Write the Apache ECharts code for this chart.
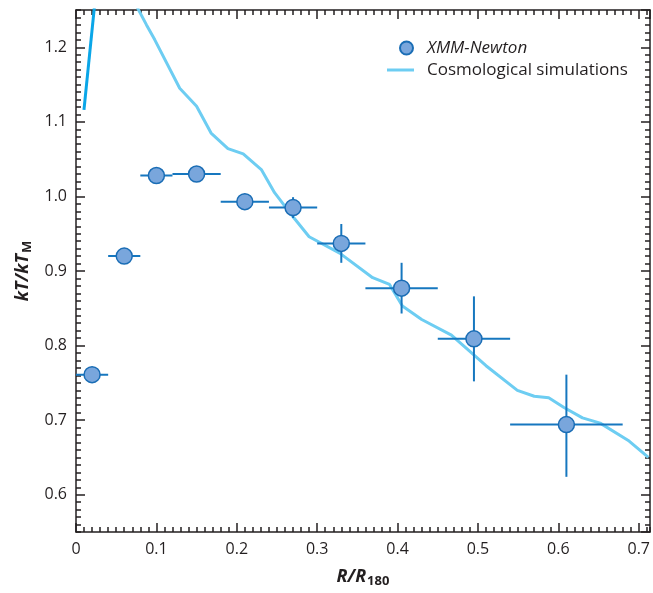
<!DOCTYPE html>
<html>
<head>
<meta charset="utf-8">
<script src="https://cdn.jsdelivr.net/npm/echarts@6/dist/echarts.min.js"></script>
<style>
  html, body { margin: 0; padding: 0; background: #fff; }
  #chart { width: 653px; height: 593px; }
</style>
</head>
<body>
<div id="chart"></div>
<script>
// XMM-Newton temperature profile (bins in R/R180)
const obsR     = [0.02, 0.06, 0.10, 0.15, 0.21, 0.27, 0.33, 0.405, 0.495, 0.61];
const obsKT    = [0.761, 0.920, 1.028, 1.030, 0.993, 0.985, 0.937, 0.877, 0.809, 0.694];
const obsRLo   = [0.00, 0.04, 0.08, 0.12, 0.18, 0.24, 0.30, 0.36, 0.45, 0.54];
const obsRHi   = [0.04, 0.08, 0.12, 0.18, 0.24, 0.30, 0.36, 0.45, 0.54, 0.68];
const obsKTLo  = [0.753, 0.912, 1.020, 1.022, 0.985, 0.971, 0.911, 0.843, 0.752, 0.624];
const obsKTHi  = [0.769, 0.928, 1.036, 1.038, 1.001, 0.999, 0.963, 0.911, 0.866, 0.761];

// Simulated profile
const simR  = [0.072, 0.0877, 0.098, 0.129, 0.150, 0.168, 0.189, 0.208, 0.2305, 0.247, 0.2697,
               0.290, 0.328, 0.369, 0.390, 0.406, 0.430, 0.467, 0.510, 0.549, 0.570, 0.588,
               0.607, 0.630, 0.652, 0.688, 0.712];
const simKT = [1.262, 1.230, 1.210, 1.145, 1.121, 1.085, 1.064, 1.057, 1.036, 1.005, 0.973,
               0.946, 0.924, 0.891, 0.882, 0.853, 0.835, 0.814, 0.773, 0.740, 0.732, 0.730,
               0.717, 0.703, 0.696, 0.672, 0.650];
// Inner rising branch of the simulated profile
const coreR  = [0.0099, 0.0255];
const coreKT = [1.116, 1.282];

// Axis extents and tick steps
const xMin = 0, xMax = 0.714, xMajor = 0.1, xMinor = 0.01;
const yMin = 0.55, yMax = 1.25, yMinor = 0.01;

const FONT = '"Open Sans", "Noto Sans", sans-serif';
const INK = '#231f20';

const chart = echarts.init(document.getElementById('chart'), null, { renderer: 'canvas' });

const grid = { left: 76, top: 10, width: 575, height: 523 };

function xAxisDef(pos, major, withLabels) {
  return {
    type: 'value', position: pos, min: xMin, max: xMax,
    interval: major ? xMajor : xMinor,
    axisLine: { show: major, onZero: false, lineStyle: { color: INK, width: 1.5 } },
    axisTick: { show: true, inside: true, length: major ? 9 : 5, lineStyle: { color: INK, width: 1.5 } },
    axisLabel: {
      show: withLabels, color: INK, fontFamily: FONT, fontSize: 16, margin: 9,
      showMaxLabel: false,
      formatter: v => (Math.abs(v) < 1e-9 ? '0' : v.toFixed(1))
    },
    splitLine: { show: false }
  };
}

function yAxisDef(pos, major, withLabels) {
  const a = {
    type: 'value', position: pos, min: yMin, max: yMax,
    axisLine: { show: major, onZero: false, lineStyle: { color: INK, width: 1.5 } },
    axisTick: { show: true, inside: true, length: major ? 9 : 5, lineStyle: { color: INK, width: 1.5 } },
    axisLabel: {
      show: withLabels, color: INK, fontFamily: FONT, fontSize: 16, margin: 9,
      showMinLabel: false, showMaxLabel: false,
      formatter: v => v.toFixed(1)
    },
    splitLine: { show: false }
  };
  if (major) { a.splitNumber = 7; } else { a.interval = yMinor; }
  return a;
}

const titleRich = {
  a: { fontFamily: FONT, fontSize: 18, fontWeight: 'bold', fontStyle: 'italic', color: INK },
  b: { fontFamily: FONT, fontSize: 13, fontWeight: 'bold', color: INK, padding: [9, 0, 0, 1] }
};

const xAxes = [
  Object.assign(xAxisDef('bottom', true, true), {
    name: '{a|R/R}{b|180}', nameLocation: 'middle', nameGap: 34,
    nameTextStyle: { color: INK, rich: titleRich }
  }),
  xAxisDef('bottom', false, false),
  xAxisDef('top', true, false),
  xAxisDef('top', false, false)
];

const yAxes = [
  Object.assign(yAxisDef('left', true, true), {
    name: '{a|kT/kT}{b|M}', nameLocation: 'middle', nameGap: 38,
    nameTextStyle: { color: INK, rich: titleRich }
  }),
  yAxisDef('left', false, false),
  yAxisDef('right', true, false),
  yAxisDef('right', false, false)
];

const obsData = obsR.map((r, i) => [r, obsKT[i], obsRLo[i], obsRHi[i], obsKTLo[i], obsKTHi[i]]);

const option = {
  animation: false,
  backgroundColor: '#fff',
  grid: grid,
  xAxis: xAxes,
  yAxis: yAxes,
  legend: [
    {
      data: ['XMM-Newton'], orient: 'vertical', left: 399, top: 39.5, padding: 0,
      itemWidth: 27, itemHeight: 13,
      textStyle: { color: INK, fontFamily: FONT, fontSize: 17, padding: [0, 0, 0, 2],
                   rich: { i: { fontStyle: 'italic', fontFamily: FONT, fontSize: 17, color: INK } } },
      formatter: n => '{i|' + n + '}'
    },
    {
      data: [{ name: 'Cosmological simulations', icon: 'rect' }],
      orient: 'vertical', left: 387, top: 61.5, padding: 0,
      itemWidth: 27, itemHeight: 3,
      textStyle: { color: INK, fontFamily: FONT, fontSize: 17, padding: [0, 0, 0, 8] }
    }
  ],
  series: [
    {
      name: 'Cosmological simulations', type: 'line', symbol: 'none',
      data: simR.map((r, i) => [r, simKT[i]]),
      lineStyle: { color: '#6dcdf2', width: 3 }, itemStyle: { color: '#6dcdf2' },
      z: 2
    },
    {
      name: 'core', type: 'line', symbol: 'none',
      data: coreR.map((r, i) => [r, coreKT[i]]),
      lineStyle: { color: '#0aa6e8', width: 3 }, z: 2
    },
    {
      name: 'errors', type: 'custom',
      data: obsData,
      renderItem: (params, api) => {
        const y = api.value(1), x = api.value(0);
        const pL = api.coord([api.value(2), y]);
        const pR = api.coord([api.value(3), y]);
        const pB = api.coord([x, api.value(4)]);
        const pT = api.coord([x, api.value(5)]);
        const st = { stroke: '#1677bf', lineWidth: 2 };
        return {
          type: 'group',
          children: [
            { type: 'line', shape: { x1: pL[0], y1: pL[1], x2: pR[0], y2: pR[1] }, style: st },
            { type: 'line', shape: { x1: pB[0], y1: pB[1], x2: pT[0], y2: pT[1] }, style: st }
          ]
        };
      },
      z: 3
    },
    {
      name: 'XMM-Newton', type: 'scatter', symbol: 'circle', symbolSize: 16,
      data: obsR.map((r, i) => [r, obsKT[i]]),
      itemStyle: { color: '#79a6dc', borderColor: '#1a6db5', borderWidth: 1.5, opacity: 1 },
      z: 4
    }
  ]
};

chart.setOption(option);
</script>
</body>
</html>
